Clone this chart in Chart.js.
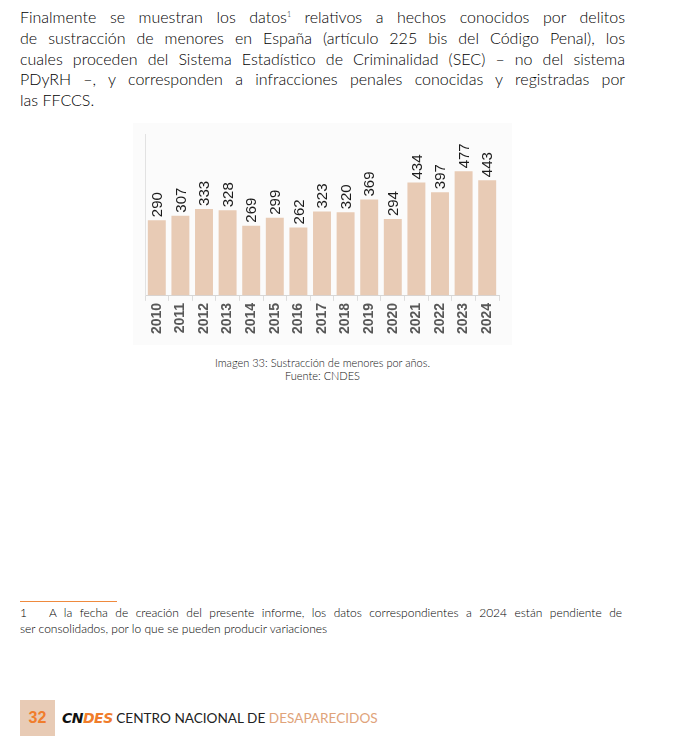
<!DOCTYPE html>
<html lang="es">
<head>
<meta charset="utf-8">
<script src="https://cdn.jsdelivr.net/npm/chart.js@4.4.1/dist/chart.umd.min.js"></script>
<style>
  html, body { margin: 0; padding: 0; background: #ffffff; }
  body { width: 692px; height: 736px; position: relative; overflow: hidden; font-family: "Lato", "Open Sans", sans-serif; color: #222; }
  .para { position: absolute; left: 20px; top: 7px; width: 605px; font-size: 16px; line-height: 20.8px; font-weight: 300; color: #000; }
  .para .ln { text-align: justify; text-align-last: justify; white-space: normal; }
  .para .ln.last { text-align-last: left; }
  sup { font-size: 7px; vertical-align: 6px; line-height: 0; }
  #chartBox { position: absolute; left: 133px; top: 123px; width: 379px; height: 222px; background: #fbfbfb; }
  .caption { position: absolute; left: 133px; width: 379px; top: 356px; text-align: center; font-size: 11px; line-height: 13px; color: #111; font-weight: 300; }
  .fnrule { position: absolute; left: 20px; top: 601px; width: 97px; height: 1px; background: #ef8a3e; }
  .fn { position: absolute; left: 20px; top: 605px; width: 602px; font-size: 12px; line-height: 15.5px; color: #000; font-weight: 300; }
  .fn .l1 { text-align: justify; text-align-last: justify; }
  .pgbox { position: absolute; left: 20px; top: 700px; width: 35px; height: 36px; background: #e8cbb5; color: #f07d2c; font-weight: bold; font-size: 16px; line-height: 36px; text-align: center; font-family: "Liberation Sans", sans-serif; }
  .footer { position: absolute; left: 62px; top: 708px; font-size: 13.6px; line-height: 20px; white-space: nowrap; color: #222; }
  .footer .logo { font-family: "DejaVu Sans", sans-serif; font-weight: bold; font-style: italic; font-size: 14px; letter-spacing: -0.5px; }
  .footer .logo .cn { color: #111; }
  .footer .logo .des { color: #f07d2c; }
  .footer .dis { color: #e0a37a; }
</style>
</head>
<body>
<div class="para">
  <div class="ln">Finalmente se muestran los datos<sup>1</sup> relativos a hechos conocidos por delitos</div>
  <div class="ln">de sustracción de menores en España (artículo 225 bis del Código Penal), los</div>
  <div class="ln">cuales proceden del Sistema Estadístico de Criminalidad (SEC) – no del sistema</div>
  <div class="ln">PDyRH –, y corresponden a infracciones penales conocidas y registradas por</div>
  <div class="ln last">las FFCCS.</div>
</div>

<div id="chartBox"><canvas id="c" width="379" height="222"></canvas></div>

<div class="caption">Imagen 33: Sustracción de menores por años.<br>Fuente: CNDES</div>

<div class="fnrule"></div>
<div class="fn">
  <div class="l1">1&nbsp;&nbsp;&nbsp;A la fecha de creación del presente informe, los datos correspondientes a 2024 están pendiente de</div>
  <div>ser consolidados, por lo que se pueden producir variaciones</div>
</div>

<div class="pgbox">32</div>
<div class="footer"><span class="logo"><span class="cn">CN</span><span class="des">DES</span></span> CENTRO NACIONAL DE <span class="dis">DESAPARECIDOS</span></div>

<script>
// ---- data ----
const years = ['2010','2011','2012','2013','2014','2015','2016','2017','2018','2019','2020','2021','2022','2023','2024'];
const cases = [290, 307, 333, 328, 269, 299, 262, 323, 320, 369, 294, 434, 397, 477, 443];
const gridValues = [0, 200, 400, 600];

const valueLabels = {
  id: 'valueLabels',
  afterDatasetsDraw(chart) {
    const ctx = chart.ctx;
    const meta = chart.getDatasetMeta(0);
    const data = chart.data.datasets[0].data;
    ctx.save();
    ctx.font = '15px "Liberation Sans", Arial, sans-serif';
    ctx.fillStyle = '#1c1c1c';
    ctx.textAlign = 'left';
    ctx.textBaseline = 'middle';
    meta.data.forEach((bar, i) => {
      const p = bar.getProps(['x', 'y'], true);
      ctx.save();
      ctx.translate(p.x, p.y - 3);
      ctx.rotate(-Math.PI / 2);
      ctx.fillText(String(data[i]), 0, 1);
      ctx.restore();
    });
    ctx.restore();
  }
};

new Chart(document.getElementById('c'), {
  type: 'bar',
  data: {
    labels: years,
    datasets: [{
      data: cases,
      backgroundColor: '#e8cbb5',
      borderWidth: 0,
      categoryPercentage: 1,
      barPercentage: 0.76
    }]
  },
  options: {
    responsive: false,
    devicePixelRatio: 1,
    animation: false,
    layout: { padding: { left: 12, right: 13, top: 11, bottom: 9 } },
    plugins: { legend: { display: false }, tooltip: { enabled: false } },
    scales: {
      x: {
        grid: { display: true, drawOnChartArea: false, drawTicks: true, tickLength: 5, color: '#dcdcdc' },
        border: { display: true, color: '#d6d6d6', width: 1 },
        ticks: {
          minRotation: 90, maxRotation: 90, padding: 2,
          color: '#585858',
          font: { family: '"Liberation Sans", Arial, sans-serif', size: 14, weight: 'bold' }
        }
      },
      y: {
        min: 0, max: 620,
        ticks: { display: false, stepSize: 200 },
        grid: {
          drawTicks: false,
          color: (c) => (c.tick && gridValues.includes(c.tick.value) ? '#e8e8e8' : 'rgba(0,0,0,0)')
        },
        border: { display: true, color: '#e2e2e2', width: 1 }
      }
    }
  },
  plugins: [valueLabels]
});
</script>
</body>
</html>
